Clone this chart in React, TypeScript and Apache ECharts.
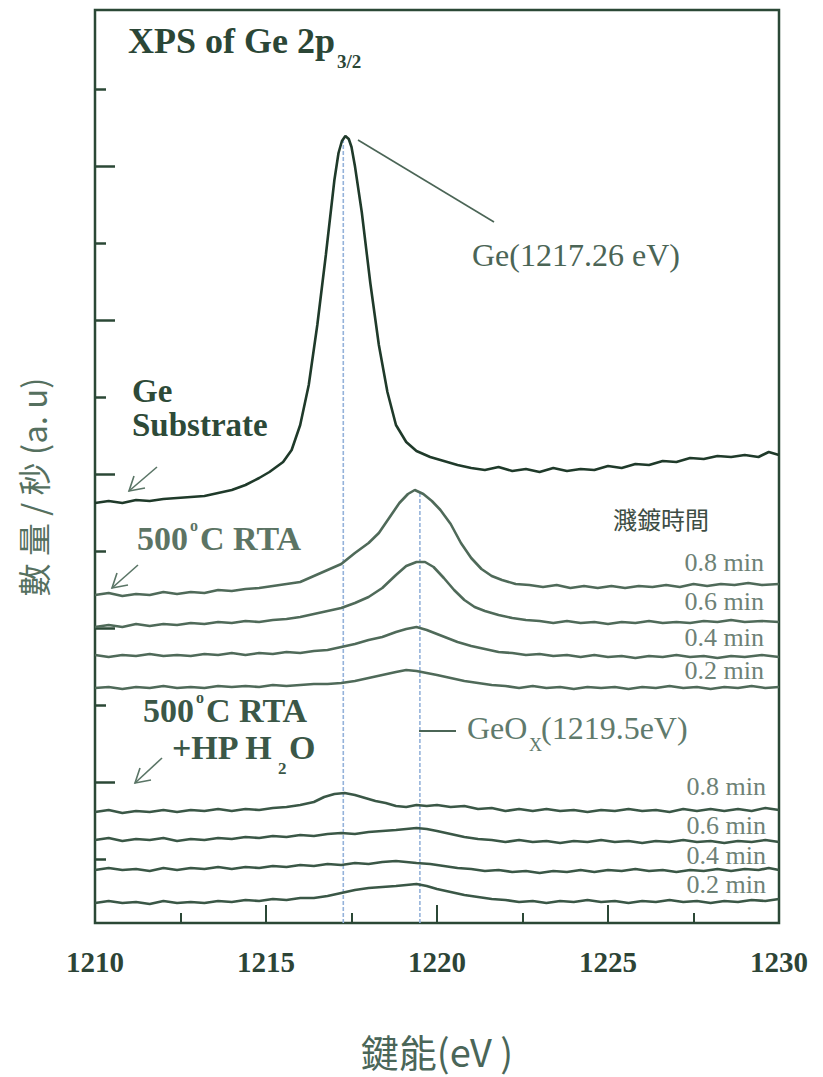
import React, { useEffect, useRef } from "react";
import * as echarts from "echarts";

// ---------- DATA (binding energy eV, intensity a.u.) ----------
const geSubstrate: [number, number][] = [
  [1210.0, 420], [1210.4, 422], [1210.8, 420], [1211.2, 423], [1211.6, 422], [1212.0, 424], [1212.4, 425], [1212.8, 426],
  [1213.2, 427], [1213.6, 430], [1214.0, 433], [1214.4, 438], [1214.8, 445], [1215.1, 451], [1215.5, 461], [1215.75, 473],
  [1216.0, 498], [1216.25, 538], [1216.5, 598], [1216.75, 668], [1217.0, 743], [1217.12, 770], [1217.22, 782], [1217.32, 787],
  [1217.42, 784], [1217.5, 776], [1217.6, 757], [1217.8, 711], [1218.05, 640], [1218.3, 578], [1218.55, 531], [1218.8, 498],
  [1219.1, 481], [1219.4, 472], [1219.8, 466], [1220.2, 462], [1220.6, 458], [1221.0, 455], [1221.4, 453], [1221.8, 456],
  [1222.2, 452], [1222.6, 454], [1223.0, 451], [1223.4, 455], [1223.8, 452], [1224.2, 454], [1224.6, 453], [1225.0, 457],
  [1225.4, 455], [1225.8, 459], [1226.2, 458], [1226.6, 462], [1227.0, 461], [1227.4, 465], [1227.8, 464], [1228.2, 467],
  [1228.6, 466], [1229.0, 468], [1229.4, 466], [1229.7, 471], [1230.0, 468],
];

const rta08: [number, number][] = [
  [1210.0, 328], [1210.4, 330], [1210.8, 327], [1211.2, 329], [1211.6, 328], [1212.0, 331], [1212.4, 329], [1212.8, 331],
  [1213.2, 330], [1213.6, 333], [1214.0, 332], [1214.4, 334], [1214.8, 335], [1215.2, 337], [1215.6, 339], [1216.0, 341],
  [1216.4, 347], [1216.8, 353], [1217.2, 359], [1217.6, 370], [1218.0, 380], [1218.3, 390], [1218.6, 405], [1218.9, 420],
  [1219.15, 429], [1219.35, 433], [1219.6, 429], [1219.85, 422], [1220.1, 413], [1220.4, 399], [1220.7, 380], [1221.0, 365],
  [1221.3, 354], [1221.6, 347], [1221.9, 343], [1222.3, 339], [1222.7, 338], [1223.1, 336], [1223.5, 338], [1223.9, 335],
  [1224.3, 337], [1224.7, 335], [1225.1, 337], [1225.5, 335], [1225.9, 337], [1226.3, 336], [1226.7, 338], [1227.1, 336],
  [1227.5, 339], [1227.9, 337], [1228.3, 339], [1228.7, 338], [1229.1, 340], [1229.5, 338], [1230.0, 339],
];

const rta06: [number, number][] = [
  [1210.0, 296], [1210.4, 298], [1210.8, 296], [1211.2, 299], [1211.6, 297], [1212.0, 299], [1212.4, 298], [1212.8, 300],
  [1213.2, 299], [1213.6, 301], [1214.0, 300], [1214.4, 302], [1214.8, 301], [1215.2, 303], [1215.6, 304], [1216.0, 306],
  [1216.4, 309], [1216.8, 312], [1217.2, 315], [1217.6, 320], [1218.0, 326], [1218.4, 335], [1218.8, 348], [1219.1, 357],
  [1219.4, 361], [1219.65, 361], [1219.9, 356], [1220.2, 345], [1220.5, 333], [1220.8, 323], [1221.1, 316], [1221.4, 312],
  [1221.8, 308], [1222.2, 305], [1222.6, 303], [1223.0, 302], [1223.4, 300], [1223.8, 302], [1224.2, 300], [1224.6, 301],
  [1225.0, 299], [1225.4, 301], [1225.8, 300], [1226.2, 302], [1226.6, 300], [1227.0, 301], [1227.4, 300], [1227.8, 302],
  [1228.2, 301], [1228.6, 303], [1229.0, 301], [1229.5, 302], [1230.0, 301],
];

const rta04: [number, number][] = [
  [1210.0, 268], [1210.4, 266], [1210.8, 268], [1211.2, 267], [1211.6, 269], [1212.0, 267], [1212.4, 268], [1212.8, 267],
  [1213.2, 269], [1213.6, 268], [1214.0, 270], [1214.4, 268], [1214.8, 270], [1215.2, 269], [1215.6, 271], [1216.0, 270],
  [1216.4, 272], [1216.8, 273], [1217.2, 276], [1217.6, 279], [1218.0, 283], [1218.4, 286], [1218.8, 291], [1219.1, 294],
  [1219.4, 296], [1219.7, 293], [1220.0, 289], [1220.3, 285], [1220.6, 281], [1221.0, 277], [1221.4, 274], [1221.8, 271],
  [1222.2, 270], [1222.6, 268], [1223.0, 269], [1223.4, 267], [1223.8, 268], [1224.2, 266], [1224.6, 268], [1225.0, 266],
  [1225.4, 267], [1225.8, 265], [1226.2, 267], [1226.6, 266], [1227.0, 268], [1227.4, 266], [1227.8, 267], [1228.2, 265],
  [1228.6, 267], [1229.0, 266], [1229.5, 268], [1230.0, 266],
];

const rta02: [number, number][] = [
  [1210.0, 235], [1210.4, 236], [1210.8, 234], [1211.2, 236], [1211.6, 235], [1212.0, 237], [1212.4, 235], [1212.8, 236],
  [1213.2, 235], [1213.6, 237], [1214.0, 236], [1214.4, 237], [1214.8, 236], [1215.2, 238], [1215.6, 237], [1216.0, 238],
  [1216.4, 239], [1216.8, 239], [1217.2, 240], [1217.6, 242], [1218.0, 245], [1218.4, 248], [1218.8, 251], [1219.1, 253],
  [1219.4, 252], [1219.7, 250], [1220.0, 248], [1220.4, 245], [1220.8, 242], [1221.2, 240], [1221.6, 238], [1222.0, 237],
  [1222.4, 235], [1222.8, 237], [1223.2, 235], [1223.6, 236], [1224.0, 234], [1224.4, 236], [1224.8, 235], [1225.2, 236],
  [1225.6, 234], [1226.0, 236], [1226.4, 235], [1226.8, 237], [1227.2, 235], [1227.6, 236], [1228.0, 234], [1228.4, 236],
  [1228.8, 235], [1229.2, 237], [1229.6, 235], [1230.0, 236],
];

const hp08: [number, number][] = [
  [1210.0, 111], [1210.4, 113], [1210.8, 110], [1211.2, 112], [1211.6, 111], [1212.0, 113], [1212.4, 111], [1212.8, 113],
  [1213.2, 112], [1213.6, 114], [1214.0, 112], [1214.4, 114], [1214.8, 113], [1215.2, 115], [1215.6, 116], [1216.0, 118],
  [1216.4, 121], [1216.7, 126], [1217.0, 129], [1217.3, 130], [1217.6, 128], [1217.9, 125], [1218.2, 122], [1218.5, 120],
  [1218.8, 117], [1219.1, 116], [1219.4, 118], [1219.7, 117], [1220.0, 118], [1220.4, 116], [1220.8, 117], [1221.2, 114],
  [1221.6, 115], [1222.0, 112], [1222.4, 114], [1222.8, 112], [1223.2, 114], [1223.6, 112], [1224.0, 113], [1224.4, 111],
  [1224.8, 113], [1225.2, 112], [1225.6, 114], [1226.0, 112], [1226.4, 113], [1226.8, 111], [1227.2, 114], [1227.6, 112],
  [1228.0, 114], [1228.4, 112], [1228.8, 114], [1229.2, 112], [1229.6, 115], [1230.0, 113],
];

const hp06: [number, number][] = [
  [1210.0, 83], [1210.4, 85], [1210.8, 82], [1211.2, 84], [1211.6, 83], [1212.0, 85], [1212.4, 82], [1212.8, 84],
  [1213.2, 83], [1213.6, 85], [1214.0, 84], [1214.4, 86], [1214.8, 85], [1215.2, 87], [1215.6, 86], [1216.0, 88],
  [1216.4, 87], [1216.8, 89], [1217.2, 90], [1217.6, 89], [1218.0, 91], [1218.4, 92], [1218.8, 93], [1219.1, 94],
  [1219.4, 95], [1219.7, 94], [1220.0, 92], [1220.4, 89], [1220.8, 86], [1221.2, 84], [1221.6, 83], [1222.0, 81],
  [1222.4, 83], [1222.8, 81], [1223.2, 82], [1223.6, 80], [1224.0, 82], [1224.4, 81], [1224.8, 83], [1225.2, 81],
  [1225.6, 82], [1226.0, 80], [1226.4, 82], [1226.8, 81], [1227.2, 83], [1227.6, 81], [1228.0, 82], [1228.4, 80],
  [1228.8, 82], [1229.2, 81], [1229.6, 83], [1230.0, 81],
];

const hp04: [number, number][] = [
  [1210.0, 53], [1210.4, 55], [1210.8, 53], [1211.2, 54], [1211.6, 52], [1212.0, 55], [1212.4, 53], [1212.8, 55],
  [1213.2, 54], [1213.6, 56], [1214.0, 54], [1214.4, 56], [1214.8, 55], [1215.2, 57], [1215.6, 56], [1216.0, 58],
  [1216.4, 57], [1216.8, 59], [1217.2, 58], [1217.6, 60], [1218.0, 59], [1218.4, 61], [1218.8, 62], [1219.1, 61],
  [1219.4, 60], [1219.8, 59], [1220.2, 57], [1220.6, 55], [1221.0, 54], [1221.4, 52], [1221.8, 53], [1222.2, 51],
  [1222.6, 52], [1223.0, 50], [1223.4, 52], [1223.8, 51], [1224.2, 53], [1224.6, 51], [1225.0, 53], [1225.4, 52],
  [1225.8, 54], [1226.2, 52], [1226.6, 53], [1227.0, 51], [1227.4, 53], [1227.8, 52], [1228.2, 54], [1228.6, 52],
  [1229.0, 54], [1229.4, 53], [1229.7, 55], [1230.0, 53],
];

const hp02: [number, number][] = [
  [1210.0, 20], [1210.4, 22], [1210.8, 20], [1211.2, 21], [1211.6, 19], [1212.0, 22], [1212.4, 20], [1212.8, 21],
  [1213.2, 20], [1213.6, 22], [1214.0, 21], [1214.4, 23], [1214.8, 22], [1215.2, 24], [1215.6, 23], [1216.0, 25],
  [1216.4, 25], [1216.8, 27], [1217.2, 30], [1217.6, 33], [1218.0, 35], [1218.4, 36], [1218.8, 37], [1219.1, 38],
  [1219.4, 39], [1219.7, 37], [1220.0, 34], [1220.4, 31], [1220.8, 28], [1221.2, 26], [1221.6, 24], [1222.0, 23],
  [1222.4, 21], [1222.8, 22], [1223.2, 20], [1223.6, 22], [1224.0, 21], [1224.4, 23], [1224.8, 21], [1225.2, 22],
  [1225.6, 20], [1226.0, 22], [1226.4, 21], [1226.8, 23], [1227.2, 21], [1227.6, 22], [1228.0, 20], [1228.4, 22],
  [1228.8, 21], [1229.2, 23], [1229.6, 22], [1230.0, 24],
];

// reference peak positions (eV) and the height the dotted guide reaches
const peakEnergies = [1217.26, 1219.5];
const peakGuideTops = [786, 430];

const xTickLabels = [1210, 1215, 1220, 1225, 1230];
const yTicksLong = [141, 295, 449, 603, 757];
const yTicksShort = [64, 218, 372, 526, 680, 834];

const timeLabels = ["0.8 min", "0.6 min", "0.4 min", "0.2 min"];

// ---------- STYLE ----------
const SERIF = '"Liberation Serif", "DejaVu Serif", serif';
const CJK = '"Noto Sans CJK TC", "Noto Sans CJK SC", "Noto Sans", sans-serif';
const BOX = "#2b4836";
const C_GE = "#1f3a2a";
const C_RTA = "#4f6a59";
const C_HP = "#3a5746";
const C_LABEL = "#6d8176";

function txt(
  text: string,
  x: number,
  y: number,
  size: number,
  fill: string,
  opts: { bold?: boolean; align?: string; family?: string; rotation?: number; lineHeight?: number } = {}
) {
  const align = opts.align || "left";
  const style: any = {
    text,
    x: 0,
    y: 0,
    fill,
    fontSize: size,
    fontFamily: opts.family || SERIF,
    fontWeight: opts.bold ? "bold" : "normal",
    align,
    textAlign: align,
    verticalAlign: "middle",
    textVerticalAlign: "middle",
  };
  if (opts.lineHeight) style.lineHeight = opts.lineHeight;
  return {
    type: "text",
    x,
    y,
    rotation: opts.rotation || 0,
    silent: true,
    z: 10,
    style,
  };
}

function seg(x1: number, y1: number, x2: number, y2: number, color: string, w: number) {
  return { type: "line", silent: true, z: 10, shape: { x1, y1, x2, y2 }, style: { stroke: color, lineWidth: w } };
}

function arrow(tip: [number, number], tail: [number, number], a1: [number, number], a2: [number, number]) {
  const c = "#5a7566";
  return [
    seg(tip[0], tip[1], tail[0], tail[1], c, 1.6),
    { type: "polyline", silent: true, z: 10, shape: { points: [a1, tip, a2] }, style: { stroke: c, lineWidth: 1.6, fill: null } },
  ];
}

export default function App() {
  const ref = useRef<HTMLDivElement>(null);

  useEffect(() => {
    if (!ref.current) return;
    const chart = echarts.init(ref.current, null, { renderer: "svg" });

    const curve = (name: string, data: [number, number][], color: string, width: number) => ({
      name,
      type: "line",
      data,
      showSymbol: false,
      symbol: "none",
      smooth: false,
      z: 3,
      lineStyle: { color, width },
      silent: true,
    });

    const guides = peakEnergies.map((e, i) => ({
      name: "guide" + i,
      type: "line",
      data: [
        [e, 0],
        [e, peakGuideTops[i]],
      ],
      showSymbol: false,
      symbol: "none",
      z: 2,
      silent: true,
      lineStyle: { color: "#94b2da", width: 1.6, type: [4, 2] },
    }));

    const rightTop = [562, 601, 637, 670];
    const rightBottom = [786, 825, 855, 884];

    const graphics: any[] = [
      // title
      txt("XPS of Ge 2p", 128, 41, 36, "#2b4636", { bold: true }),
      txt("3/2", 337, 61, 19, "#2b4636", { bold: true }),
      // Ge substrate
      txt("Ge\nSubstrate", 132, 408, 33, "#2d4a38", { bold: true, lineHeight: 34 }),
      // 500C RTA
      txt("500", 137, 538, 34, "#5c7464", { bold: true }),
      txt("o", 190, 525, 16, "#5c7464", { bold: true }),
      txt("C RTA", 200, 538, 34, "#5c7464", { bold: true }),
      // 500C RTA + HP H2O
      txt("500", 143, 710, 34, "#3b5747", { bold: true }),
      txt("o", 196, 697, 16, "#3b5747", { bold: true }),
      txt("C RTA", 206, 710, 34, "#3b5747", { bold: true }),
      txt("+HP H", 172, 747, 34, "#3b5747", { bold: true }),
      txt("2", 278, 768, 17, "#3b5747", { bold: true }),
      txt("O", 289, 747, 34, "#3b5747", { bold: true }),
      // sputter time header
      txt("濺鍍時間", 613, 518, 24, "#3d4d44", { family: CJK }),
      // peak annotations
      txt("Ge(1217.26 eV)", 472, 255, 32, "#4b6556"),
      seg(358, 140, 494, 222, "#4b6556", 1.6),
      txt("GeO", 467, 728, 32, "#5f7a6c"),
      txt("X", 529, 745, 18, "#5f7a6c"),
      txt("(1219.5eV)", 541, 728, 32, "#5f7a6c"),
      seg(419, 731, 456, 731, "#4b6556", 2),
      // axis names
      txt("鍵能(eV )", 437, 1050, 38, "#4a6658", { family: CJK, align: "center" }),
      txt("數 量 / 秒 (a. u)", 33, 487, 33, "#55705f", { family: CJK, align: "center", rotation: Math.PI / 2 }),
      ...arrow([129, 491], [157, 467], [134, 476], [145, 488]),
      ...arrow([112, 588], [138, 565], [117, 573], [128, 585]),
      ...arrow([135, 783], [162, 758], [140, 768], [151, 780]),
    ];
    timeLabels.forEach((t, i) => {
      graphics.push(txt(t, 764, rightTop[i], 26, C_LABEL, { align: "right" }));
      graphics.push(txt(t, 766, rightBottom[i], 26, C_LABEL, { align: "right" }));
    });

    const yBase = {
      type: "value",
      min: 0,
      max: 913,
      position: "left",
      axisLine: { show: false },
      axisLabel: { show: false },
      splitLine: { show: false },
    };

    chart.setOption({
      animation: false,
      backgroundColor: "#ffffff",
      grid: {
        left: 95,
        right: 44,
        top: 10,
        bottom: 154,
        show: true,
        borderColor: BOX,
        borderWidth: 2.5,
        backgroundColor: "transparent",
      },
      xAxis: {
        type: "value",
        min: 1210,
        max: 1230,
        interval: 5,
        axisLine: { show: false },
        splitLine: { show: false },
        axisTick: { show: true, inside: true, length: 18, lineStyle: { color: BOX, width: 2 } },
        minorTick: { show: true, splitNumber: 2, length: 10, lineStyle: { color: BOX, width: 2 } },
        minorSplitLine: { show: false },
        axisLabel: {
          margin: 24,
          fontSize: 29,
          fontWeight: "bold",
          fontFamily: SERIF,
          color: "#2d4436",
          formatter: (v: number) => (xTickLabels.indexOf(Math.round(v)) >= 0 ? String(Math.round(v)) : ""),
        },
      },
      yAxis: [
        {
          ...yBase,
          axisTick: { show: true, inside: true, length: 20, customValues: yTicksLong, lineStyle: { color: BOX, width: 2.5 } },
        },
        {
          ...yBase,
          axisTick: { show: true, inside: true, length: 11, customValues: yTicksShort, lineStyle: { color: BOX, width: 2.5 } },
        },
      ],
      series: [
        ...guides,
        curve("Ge Substrate", geSubstrate, C_GE, 2.6),
        curve("RTA 0.8 min", rta08, C_RTA, 2.6),
        curve("RTA 0.6 min", rta06, C_RTA, 2.6),
        curve("RTA 0.4 min", rta04, C_RTA, 2.6),
        curve("RTA 0.2 min", rta02, C_RTA, 2.6),
        curve("HP 0.8 min", hp08, C_HP, 2.6),
        curve("HP 0.6 min", hp06, C_HP, 2.6),
        curve("HP 0.4 min", hp04, C_HP, 2.6),
        curve("HP 0.2 min", hp02, C_HP, 2.6),
      ],
      graphic: graphics,
    });

    return () => chart.dispose();
  }, []);

  return (
    <div
      ref={ref}
      style={{ position: "fixed", left: 0, top: 0, width: 823, height: 1077, background: "#fff" }}
    />
  );
}
